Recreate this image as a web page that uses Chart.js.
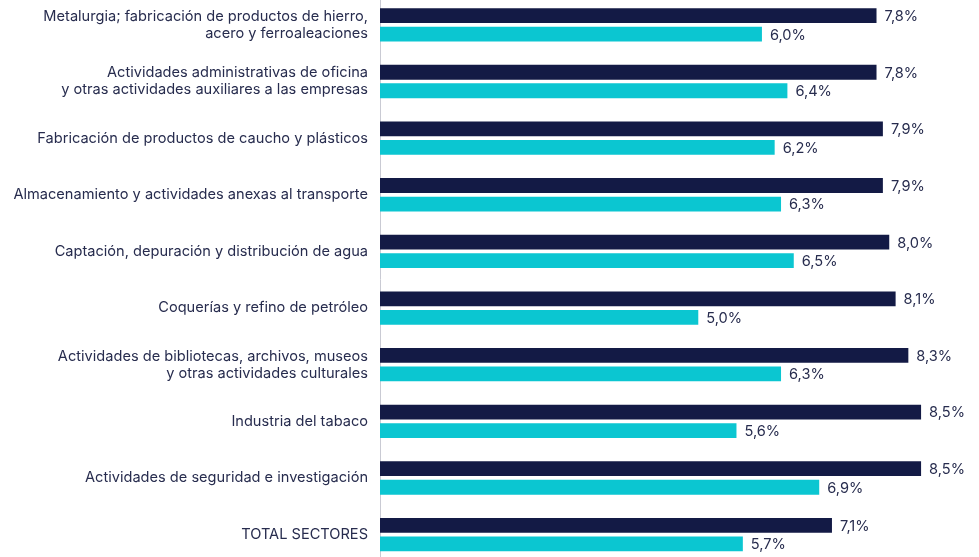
<!DOCTYPE html>
<html>
<head>
<meta charset="utf-8">
<script src="https://cdn.jsdelivr.net/npm/chart.js@4"></script>
<style>
  html, body { margin: 0; padding: 0; background: #ffffff; overflow: hidden; width: 979px; height: 557px; }
  #wrap { position: absolute; left: 0; top: -24px; width: 979px; height: 616px; }
</style>
</head>
<body>
<div id="wrap"><canvas id="c"></canvas></div>
<script>
const categories = [
  ["Metalurgia; fabricación de productos de hierro,", "acero y ferroaleaciones"],
  ["Actividades administrativas de oficina", "y otras actividades auxiliares a las empresas"],
  "Fabricación de productos de caucho y plásticos",
  "Almacenamiento y actividades anexas al transporte",
  "Captación, depuración y distribución de agua",
  "Coquerías y refino de petróleo",
  ["Actividades de bibliotecas, archivos, museos", "y otras actividades culturales"],
  "Industria del tabaco",
  "Actividades de seguridad e investigación",
  "TOTAL SECTORES"
];
const seriesA = [7.8, 7.8, 7.9, 7.9, 8.0, 8.1, 8.3, 8.5, 8.5, 7.1];
const seriesB = [6.0, 6.4, 6.2, 6.3, 6.5, 5.0, 6.3, 5.6, 6.9, 5.7];

const textColor = '#272c4e';
const fontFamily = 'Inter, "Noto Sans", sans-serif';

const valueLabels = {
  id: 'valueLabels',
  afterDatasetsDraw(chart) {
    const ctx = chart.ctx;
    ctx.save();
    ctx.font = '14.6px ' + fontFamily;
    ctx.fillStyle = textColor;
    ctx.textAlign = 'left';
    ctx.textBaseline = 'middle';
    chart.data.datasets.forEach((ds, i) => {
      const meta = chart.getDatasetMeta(i);
      meta.data.forEach((bar, j) => {
        const v = ds.data[j];
        ctx.fillText(v.toFixed(1).replace('.', ',') + '%', bar.x + 8, bar.y + 1);
      });
    });
    ctx.restore();
  }
};

new Chart(document.getElementById('c'), {
  type: 'bar',
  data: {
    labels: categories,
    datasets: [
      { data: seriesA, backgroundColor: '#131a45' },
      { data: seriesB, backgroundColor: '#0bc6d1' }
    ]
  },
  options: {
    indexAxis: 'y',
    responsive: true,
    maintainAspectRatio: false,
    animation: false,
    layout: { padding: { left: 0, right: 7, top: 0, bottom: 0 } },
    categoryPercentage: 0.654,
    barPercentage: 0.8,
    plugins: { legend: { display: false }, tooltip: { enabled: false } },
    scales: {
      x: { display: false, min: 0, max: 9.3 },
      y: {
        grid: { display: false, drawTicks: false },
        border: { display: true, color: '#c9cad3', width: 1 },
        ticks: {
          color: textColor,
          font: { family: fontFamily, size: 14.6, lineHeight: 1.17 },
          padding: 12,
          autoSkip: false
        },
        afterFit(scale) { scale.width = 380; }
      }
    }
  },
  plugins: [valueLabels]
});
</script>
</body>
</html>
